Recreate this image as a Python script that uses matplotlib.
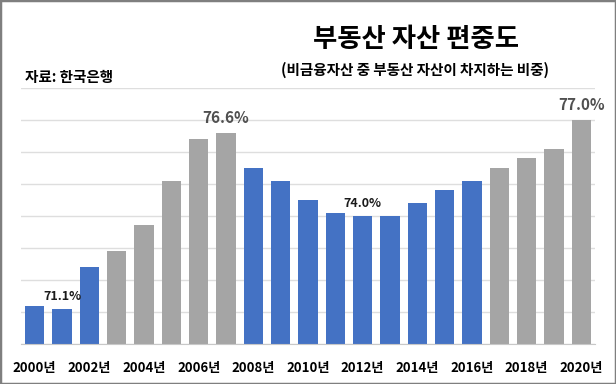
import numpy as np
import matplotlib.pyplot as plt
from matplotlib.patches import Rectangle

plt.rcParams['font.family'] = ['Noto Sans CJK KR', 'DejaVu Sans']

years = list(range(2000, 2021))
ratio = [71.2, 71.1, 72.4, 72.9, 73.7, 75.1, 76.4, 76.6, 75.5, 75.1, 74.5,
         74.1, 74.0, 74.0, 74.4, 74.8, 75.1, 75.5, 75.8, 76.1, 77.0]
gray_years = [2003, 2004, 2005, 2006, 2007, 2017, 2018, 2019, 2020]
labels = {2001: '71.1%', 2007: '76.6%', 2012: '74.0%', 2020: '77.0%'}

blue = '#4472C4'
gray = '#A5A5A5'
colors = [gray if y in gray_years else blue for y in years]

fig = plt.figure(figsize=(6.16, 3.84), dpi=100)
ax = fig.add_axes([0.0341, 0.1042, 0.9318, 0.6674])

x = np.arange(len(years))
ax.bar(x, ratio, width=0.71, color=colors, zorder=2)

ax.set_ylim(70, 78)
ax.set_xlim(-0.5, len(years) - 0.5)
ax.set_yticks(np.arange(70, 79, 1))
ax.yaxis.grid(True, color='#dedede', linewidth=1, zorder=0)
ax.tick_params(axis='y', left=False, labelleft=False)
ax.tick_params(axis='x', bottom=False, pad=9)
for s in ['top', 'right', 'left']:
    ax.spines[s].set_visible(False)
ax.spines['bottom'].set_color('#c8c8c8')

ax.set_xticks(x[::2])
ax.set_xticklabels([f'{y}년' for y in years[::2]], fontsize=9.5, fontweight='bold')

# 값 라벨
for i, y in enumerate(years):
    if y in labels:
        big = y in (2007, 2020)
        ax.annotate(labels[y], (i, ratio[i]), xytext=(0, 5 if big else 4),
                    textcoords='offset points', ha='center', va='bottom',
                    fontsize=11 if big else 9, fontweight='bold',
                    color='#505050' if big else '#1a1a1a')

fig.text(0.675, 0.896, '부동산 자산 편중도', ha='center', va='center',
         fontsize=19, fontweight='bold')
fig.text(0.674, 0.818, '(비금융자산 중 부동산 자산이 차지하는 비중)', ha='center',
         va='center', fontsize=10.5, fontweight='bold')
fig.text(0.04, 0.80, '자료: 한국은행', ha='left', va='center',
         fontsize=10.5, fontweight='bold')

fig.patches.append(Rectangle((0, 0), 1, 1, transform=fig.transFigure,
                             fill=False, edgecolor='#7f7f7f', linewidth=2.5))

fig.savefig('out.png', dpi=100)
